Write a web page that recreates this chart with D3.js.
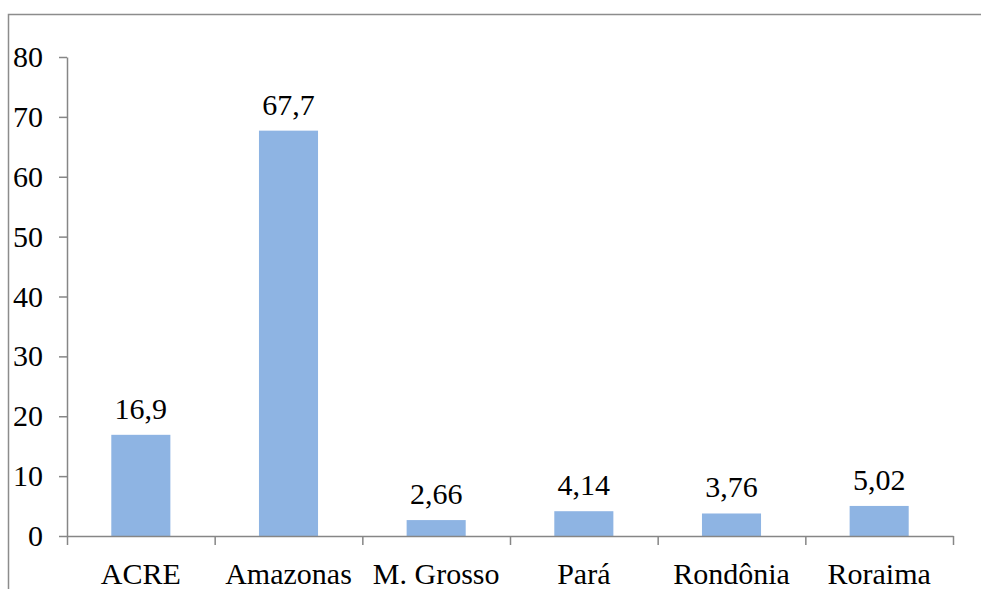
<!DOCTYPE html>
<html>
<head>
<meta charset="utf-8">
<script src="https://cdn.jsdelivr.net/npm/d3@7"></script>
<style>
  html, body { margin: 0; padding: 0; background: #fff; }
  svg { display: block; }
  svg text { font-family: 'Liberation Serif', 'DejaVu Serif', 'Noto Serif', 'Times New Roman', Times, serif !important; }
</style>
</head>
<body>
<svg id="chart" width="981" height="589"></svg>
<script>
// Estados and their values
const categories = ["ACRE", "Amazonas", "M. Grosso", "Pará", "Rondônia", "Roraima"];
const values = [16.9, 67.7, 2.66, 4.14, 3.76, 5.02];
const valueLabels = ["16,9", "67,7", "2,66", "4,14", "3,76", "5,02"];
const yTicks = [0, 10, 20, 30, 40, 50, 60, 70, 80];

const svg = d3.select("#chart");
const W = 981, H = 589;
const plot = { left: 67, right: 953, top: 57, bottom: 536 };
const axisColor = "#868686";

// Outer chart frame
svg.append("path")
  .attr("d", `M8.5,${H} L8.5,14.5 L${W},14.5`)
  .attr("fill", "none")
  .attr("stroke", "#8c8c8c")
  .attr("stroke-width", 1.5);

const x = d3.scaleBand()
  .domain(categories)
  .range([plot.left, plot.right])
  .paddingInner(0.6)
  .paddingOuter(0.3);

const y = d3.scaleLinear()
  .domain([0, 80])
  .range([plot.bottom, plot.top]);

// Bars
svg.append("g")
  .selectAll("rect")
  .data(values)
  .join("rect")
  .attr("x", (d, i) => x(categories[i]))
  .attr("y", d => y(d))
  .attr("width", x.bandwidth())
  .attr("height", d => y(0) - y(d))
  .attr("fill", "#8EB4E3");

// Value labels above each bar
svg.append("g")
  .selectAll("text")
  .data(values)
  .join("text")
  .attr("x", (d, i) => x(categories[i]) + x.bandwidth() / 2)
  .attr("y", d => y(d) - 16)
  .attr("text-anchor", "middle")
  .style("font-size", "30px")
  .attr("fill", "#000")
  .text((d, i) => valueLabels[i]);

// Y axis
const yAxis = svg.append("g")
  .attr("transform", `translate(${plot.left},0)`)
  .call(d3.axisLeft(y).tickValues(yTicks).tickSize(8).tickSizeOuter(0).tickPadding(16).tickFormat(d3.format("d")));
yAxis.attr("font-family", null).attr("font-size", null);
yAxis.selectAll("text").attr("fill", "#000").style("font-size", "30px");
yAxis.selectAll("path, line").attr("stroke", axisColor).attr("stroke-width", 1.5);

// X axis: ticks sit on the boundaries between categories
const xb = d3.scaleLinear().domain([0, categories.length]).range([plot.left, plot.right]);
const xAxis = svg.append("g")
  .attr("transform", `translate(0,${plot.bottom})`)
  .call(d3.axisBottom(xb).tickValues(d3.range(categories.length + 1)).tickSize(9).tickSizeOuter(0).tickFormat(""));
xAxis.selectAll("path, line").attr("stroke", axisColor).attr("stroke-width", 1.5);

// Category labels
svg.append("g")
  .selectAll("text")
  .data(categories)
  .join("text")
  .attr("x", d => x(d) + x.bandwidth() / 2)
  .attr("y", 584)
  .attr("text-anchor", "middle")
  .style("font-size", "30px")
  .attr("fill", "#000")
  .text(d => d);
</script>
</body>
</html>
